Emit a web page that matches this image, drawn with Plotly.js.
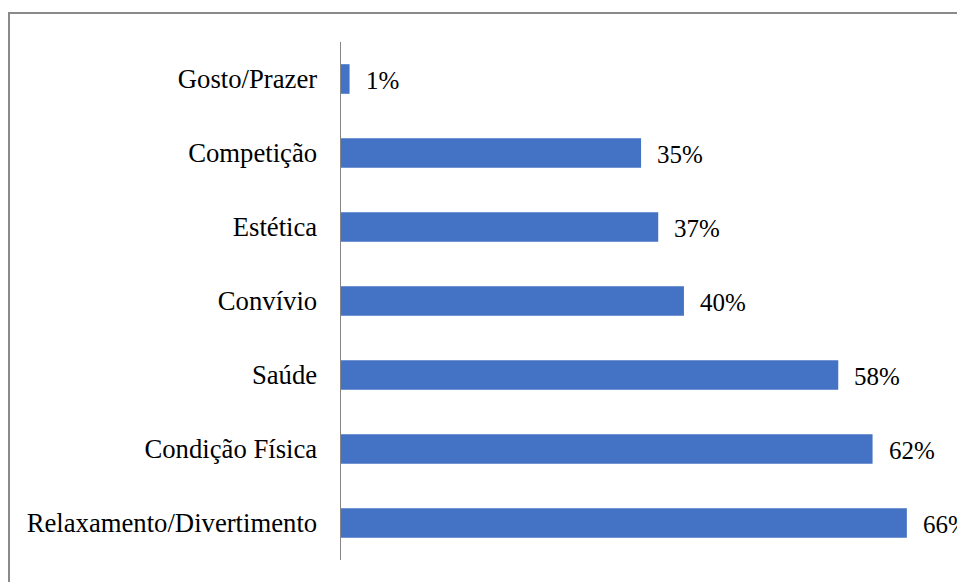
<!DOCTYPE html>
<html>
<head>
<meta charset="utf-8">
<script src="https://cdn.plot.ly/plotly-3.0.1.min.js"></script>
<style>
  html, body { margin: 0; padding: 0; background: #fff; overflow: hidden; }
  #wrap { position: relative; width: 957px; height: 582px; overflow: hidden; }
  #chart { position: absolute; left: 0; top: 0; width: 957px; height: 582px; }
  #frame { position: absolute; left: 8px; top: 12px; width: 1000px; height: 700px;
           border: 2px solid #8a8a8a; pointer-events: none; }
</style>
</head>
<body>
<div id="wrap">
  <div id="chart"></div>
  <div id="frame"></div>
</div>
<script>
// Data (top to bottom as displayed)
const categories = ["Gosto/Prazer", "Competição", "Estética", "Convívio", "Saúde", "Condição Física", "Relaxamento/Divertimento"];
const percentValues = [1, 35, 37, 40, 58, 62, 66];
const valueLabels = ["1%", "35%", "37%", "40%", "58%", "62%", "66%"];

const FONT = 'Liberation Serif, Times New Roman, serif';

const barTrace = {
  type: 'bar',
  orientation: 'h',
  x: percentValues,
  y: categories,
  marker: { color: '#4472C4' },
  hoverinfo: 'none'
};

const annotations = categories.map((c, i) => ({
  x: percentValues[i],
  y: c,
  xref: 'x',
  yref: 'y',
  text: valueLabels[i],
  showarrow: false,
  xanchor: 'left',
  yanchor: 'middle',
  xshift: 14,
  yshift: -1,
  font: { family: FONT, size: 25, color: '#000' }
}));

const layout = {
  width: 957,
  height: 582,
  margin: { l: 341, r: 33, t: 42, b: 22, pad: 0 },
  paper_bgcolor: '#fff',
  plot_bgcolor: '#fff',
  bargap: 0.6,
  showlegend: false,
  font: { family: FONT, size: 26.7, color: '#000' },
  xaxis: {
    range: [0, 68],
    visible: false,
    fixedrange: true
  },
  yaxis: {
    type: 'category',
    autorange: 'reversed',
    showline: true,
    linecolor: '#868686',
    linewidth: 1.5,
    ticks: '',
    ticklabelstandoff: 17,
    showgrid: false,
    zeroline: false,
    tickfont: { family: FONT, size: 26.7, color: '#000' },
    fixedrange: true
  },
  annotations: annotations
};

Plotly.newPlot('chart', [barTrace], layout, { displayModeBar: false, staticPlot: true });
</script>
</body>
</html>
